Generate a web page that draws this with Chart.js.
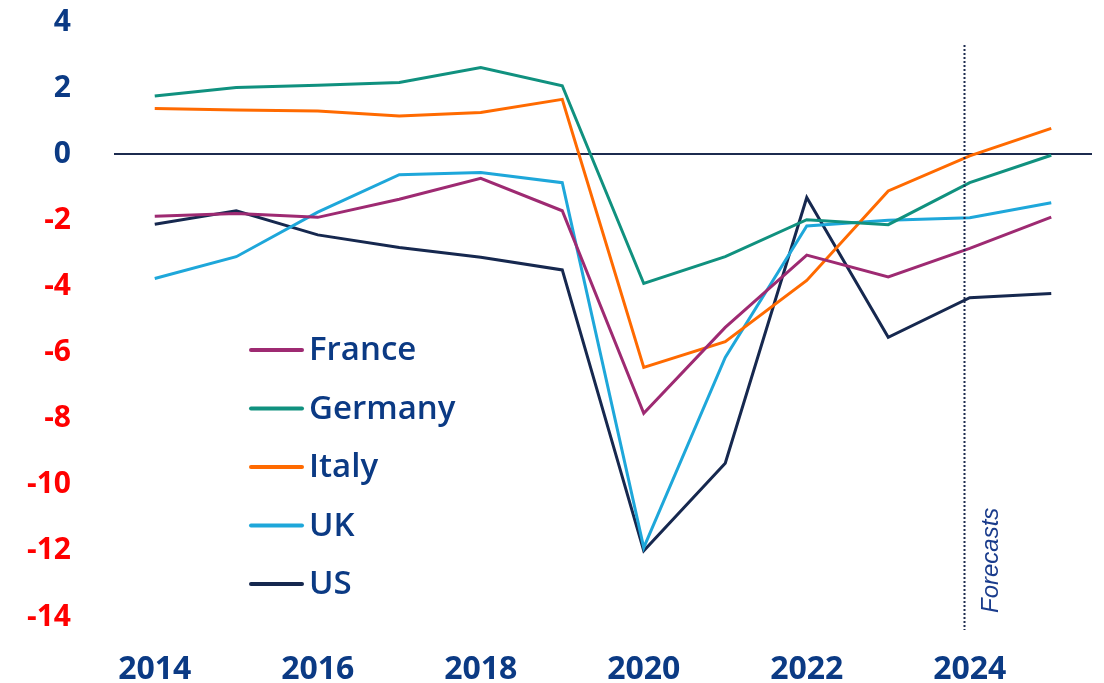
<!DOCTYPE html>
<html><head><meta charset="utf-8">
<script src="https://cdn.jsdelivr.net/npm/chart.js@4"></script>
<style>html,body{margin:0;padding:0;background:#fff}#wrap{width:1104px;height:683px;position:relative}</style>
</head><body><div id="wrap"><canvas id="c" width="1104" height="683"></canvas></div>
<script>
const years = [2014,2015,2016,2017,2018,2019,2020,2021,2022,2023,2024,2025];
const xTickYears = [2014,2016,2018,2020,2022,2024];
const yTickValues = [-14,-12,-10,-8,-6,-4,-2,0,2,4];
const seriesNames = ['France','Germany','Italy','UK','US'];
const france  = [-1.88,-1.79,-1.91,-1.36,-0.73,-1.71,-7.84,-5.24,-3.05,-3.71,-2.85,-1.90];
const germany = [ 1.76, 2.02, 2.09, 2.17, 2.62, 2.07,-3.91,-3.10,-1.98,-2.13,-0.86,-0.03];
const italy   = [ 1.38, 1.34, 1.31, 1.16, 1.26, 1.66,-6.45,-5.67,-3.82,-1.11,-0.05, 0.78];
const uk      = [-3.76,-3.10,-1.75,-0.62,-0.55,-0.86,-11.9,-6.15,-2.17,-2.00,-1.92,-1.47];
const us      = [-2.12,-1.71,-2.44,-2.82,-3.12,-3.50,-12.0,-9.35,-1.31,-5.54,-4.34,-4.21];
const forecastYear = 2023.93;
const forecastLabel = 'Forecasts';

const seriesValues = [france, germany, italy, uk, us];
const seriesColors = ['#9e2a72','#10917f','#ff6a00','#1ea7da','#16284f'];
const NAVY = '#0b3a84';
const FONT = "'Open Sans', 'Liberation Sans', sans-serif";

const datasets = seriesNames.map((n,i)=>({
  label: n,
  data: years.map((y,j)=>({x:y, y:seriesValues[i][j]})),
  borderColor: seriesColors[i],
  backgroundColor: seriesColors[i],
  borderWidth: 3,
  pointRadius: 0,
  tension: 0,
  fill: false
}));

const forecastPlugin = {
  id: 'forecast',
  afterDatasetsDraw(chart){
    const {ctx, chartArea, scales} = chart;
    const x = Math.round(scales.x.getPixelForValue(forecastYear)) + 0.5;
    ctx.save();
    ctx.strokeStyle = '#1c2b4f';
    ctx.lineWidth = 2;
    ctx.setLineDash([2,2]);
    ctx.beginPath();
    ctx.moveTo(x, chartArea.top + 23);
    ctx.lineTo(x, chartArea.bottom + 13);
    ctx.stroke();
    ctx.setLineDash([]);
    ctx.translate(x + 33, chartArea.bottom - 4);
    ctx.rotate(-Math.PI/2);
    ctx.fillStyle = '#1a3c8c';
    ctx.font = "italic 24px 'Liberation Sans', Arial, sans-serif";
    ctx.textAlign = 'left';
    ctx.textBaseline = 'alphabetic';
    ctx.fillText(forecastLabel, 0, 0);
    ctx.restore();
  }
};

const legendPlugin = {
  id: 'inlineLegend',
  afterDraw(chart){
    const {ctx} = chart;
    ctx.save();
    chart.data.datasets.forEach((ds,i)=>{
      const y = 350 + i*58.5;
      ctx.strokeStyle = ds.borderColor;
      ctx.lineWidth = 4;
      ctx.lineCap = 'round';
      ctx.beginPath();
      ctx.moveTo(251, y);
      ctx.lineTo(302, y);
      ctx.stroke();
      ctx.fillStyle = NAVY;
      ctx.font = "600 33px " + FONT;
      ctx.textAlign = 'left';
      ctx.textBaseline = 'middle';
      ctx.fillText(ds.label, 309, y+1);
    });
    ctx.restore();
  }
};

new Chart(document.getElementById('c'), {
  type: 'line',
  data: { datasets },
  options: {
    responsive: false,
    animation: false,
    devicePixelRatio: 1,
    layout: { padding: { top: 22, right: 12, bottom: 0, left: 0 } },
    plugins: { legend: { display: false }, tooltip: { enabled: false } },
    scales: {
      x: {
        type: 'linear', min: 2013.5, max: 2025.5,
        afterBuildTicks: s => { s.ticks = xTickYears.map(v=>({value:v})); },
        afterFit: s => { s.height = 66; s.paddingLeft = 0; s.paddingRight = 0; },
        grid: { display: false },
        border: { display: false },
        ticks: {
          autoSkip: false, maxRotation: 0, minRotation: 0,
          padding: 26,
          color: NAVY,
          font: { family: FONT, size: 32, weight: 'bold' },
          callback: v => String(v)
        }
      },
      y: {
        min: -14, max: 4,
        afterBuildTicks: s => { s.ticks = yTickValues.map(v=>({value:v})); },
        afterFit: s => { s.width = 114; s.paddingTop = 0; s.paddingBottom = 0; },
        grid: {
          drawTicks: false,
          lineWidth: 2,
          color: c => (c.tick && c.tick.value === 0) ? '#1c2b4f' : 'rgba(0,0,0,0)'
        },
        border: { display: false },
        ticks: {
          padding: 43,
          color: c => c.tick.value < 0 ? '#ff0000' : NAVY,
          font: { family: FONT, size: 30, weight: 'bold' },
          callback: v => String(v)
        }
      }
    }
  },
  plugins: [forecastPlugin, legendPlugin]
});
</script></body></html>
